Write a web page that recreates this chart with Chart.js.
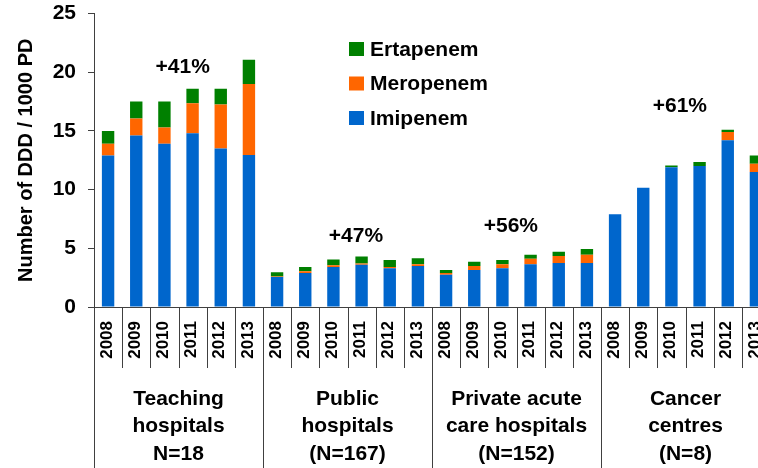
<!DOCTYPE html>
<html>
<head>
<meta charset="utf-8">
<script src="https://cdn.jsdelivr.net/npm/chart.js@4"></script>
<style>
  html, body { margin: 0; padding: 0; background: #fff; overflow: hidden; }
  #wrap { width: 770px; height: 468px; }
</style>
</head>
<body>
<div id="wrap"><canvas id="chart" width="770" height="468"></canvas></div>
<script>
// Carbapenem use by hospital type, 2008-2013

const years = ['2008', '2009', '2010', '2011', '2012', '2013'];
const groupNames = [
  ['Teaching', 'hospitals', 'N=18'],
  ['Public', 'hospitals', '(N=167)'],
  ['Private acute', 'care hospitals', '(N=152)'],
  ['Cancer', 'centres', '(N=8)']
];
const growth = ['+41%', '+47%', '+56%', '+61%'];

// one value per year, groups one after the other
const imipenem = [12.9, 14.6, 13.9, 14.8, 13.5, 12.95,
                  2.55, 2.9, 3.4, 3.6, 3.3, 3.5,
                  2.75, 3.15, 3.3, 3.65, 3.75, 3.75,
                  7.9, 10.15, 11.9, 12.0, 14.2, 11.5];
const meropenem = [1.0, 1.45, 1.4, 2.55, 3.75, 6.05,
                   0.05, 0.15, 0.15, 0.1, 0.1, 0.15,
                   0.15, 0.35, 0.35, 0.45, 0.6, 0.7,
                   0, 0, 0, 0, 0.7, 0.7];
const ertapenem = [1.1, 1.45, 2.2, 1.25, 1.35, 2.05,
                   0.35, 0.35, 0.5, 0.6, 0.6, 0.5,
                   0.25, 0.35, 0.35, 0.35, 0.35, 0.5,
                   0, 0, 0.15, 0.35, 0.2, 0.7];

const yTicks = [0, 5, 10, 15, 20, 25];

const FONT = "'Liberation Sans', Arial, sans-serif";

// category labels: every year, repeated for each group
const labels = [];
groupNames.forEach(() => years.forEach(y => labels.push(y)));

// where the growth labels sit (category index, value)
const growthPos = [[2.65, 20.4], [8.8, 6.0], [14.3, 6.9], [20.3, 17.1]];

// x axis: years, separators and group names
const twoLevelAxis = {
  id: 'twoLevelAxis',
  afterDraw(chart) {
    const ctx = chart.ctx;
    const x = chart.scales.x;
    const area = chart.chartArea;
    const step = (area.right - area.left) / labels.length;
    const base = area.bottom;

    ctx.save();
    ctx.strokeStyle = '#404040';
    ctx.lineWidth = 1;
    for (let k = 0; k <= labels.length; k++) {
      const px = Math.round(area.left + k * step) + 0.5;
      const end = (k % years.length === 0) ? chart.height : base + 61;
      ctx.beginPath();
      ctx.moveTo(px, base);
      ctx.lineTo(px, end);
      ctx.stroke();
    }

    ctx.fillStyle = '#000';
    ctx.font = 'bold 17px ' + FONT;
    ctx.textAlign = 'right';
    ctx.textBaseline = 'middle';
    labels.forEach((lab, i) => {
      ctx.save();
      ctx.translate(x.getPixelForValue(i) - 1, base + 14);
      ctx.rotate(-Math.PI / 2);
      ctx.fillText(lab, 0, 0);
      ctx.restore();
    });

    ctx.font = 'bold 21px ' + FONT;
    ctx.textAlign = 'center';
    groupNames.forEach((lines, g) => {
      const cx = area.left + (g * years.length + years.length / 2) * step;
      lines.forEach((t, j) => ctx.fillText(t, cx, 399 + j * 27.5));
    });
    ctx.restore();
  }
};

// growth percentages above each group
const growthLabels = {
  id: 'growthLabels',
  afterDatasetsDraw(chart) {
    const ctx = chart.ctx;
    ctx.save();
    ctx.fillStyle = '#000';
    ctx.font = 'bold 21px ' + FONT;
    ctx.textAlign = 'center';
    ctx.textBaseline = 'middle';
    growth.forEach((t, i) => {
      const px = chart.scales.x.getPixelForValue(growthPos[i][0]);
      const py = chart.scales.y.getPixelForValue(growthPos[i][1]);
      ctx.fillText(t, px, py);
    });
    ctx.restore();
  }
};

// legend drawn inside the plot, top series first
const boxLegend = {
  id: 'boxLegend',
  afterDraw(chart) {
    const ctx = chart.ctx;
    const sets = chart.data.datasets.slice().reverse();
    ctx.save();
    ctx.font = 'bold 21px ' + FONT;
    ctx.textAlign = 'left';
    ctx.textBaseline = 'middle';
    sets.forEach((ds, i) => {
      const cy = 49 + i * 34.5;
      ctx.fillStyle = ds.backgroundColor;
      ctx.fillRect(349, cy - 7, 15, 14);
      ctx.fillStyle = '#000';
      ctx.fillText(ds.label, 370, cy + 1);
    });
    ctx.restore();
  }
};

function initChart() {
  const ctx = document.getElementById('chart').getContext('2d');

  new Chart(ctx, {
    type: 'bar',
    data: {
      labels: labels,
      datasets: [
        { label: 'Imipenem', data: imipenem, backgroundColor: '#0066CC' },
        { label: 'Meropenem', data: meropenem, backgroundColor: '#FF6600' },
        { label: 'Ertapenem', data: ertapenem, backgroundColor: '#008000' }
      ]
    },
    options: {
      responsive: false,
      animation: false,
      layout: { padding: 0 },
      datasets: {
        bar: { categoryPercentage: 1, barPercentage: 0.44 }
      },
      plugins: {
        legend: { display: false },
        tooltip: { enabled: false }
      },
      scales: {
        x: {
          stacked: true,
          ticks: { display: false },
          grid: { display: false },
          border: { display: true, color: '#404040' },
          afterFit(scale) { scale.height = 161; }
        },
        y: {
          stacked: true,
          min: 0,
          max: 25,
          afterBuildTicks(scale) { scale.ticks = yTicks.map(v => ({ value: v })); },
          ticks: {
            color: '#000',
            padding: 12,
            font: { family: FONT, size: 21, weight: 'bold' }
          },
          grid: { drawOnChartArea: false, drawTicks: true, tickLength: 6, color: '#404040' },
          border: { display: true, color: '#404040' },
          title: {
            display: true,
            text: 'Number of DDD / 1000 PD',
            color: '#000',
            padding: { top: 14, bottom: 0 },
            font: { family: FONT, size: 20, weight: 'bold' }
          },
          afterFit(scale) {
            scale.width = 94;
            scale.paddingTop = 13.5;
            scale.paddingBottom = 0;
          }
        }
      }
    },
    plugins: [twoLevelAxis, growthLabels, boxLegend]
  });
}

document.addEventListener('DOMContentLoaded', initChart);
</script>
</body>
</html>
